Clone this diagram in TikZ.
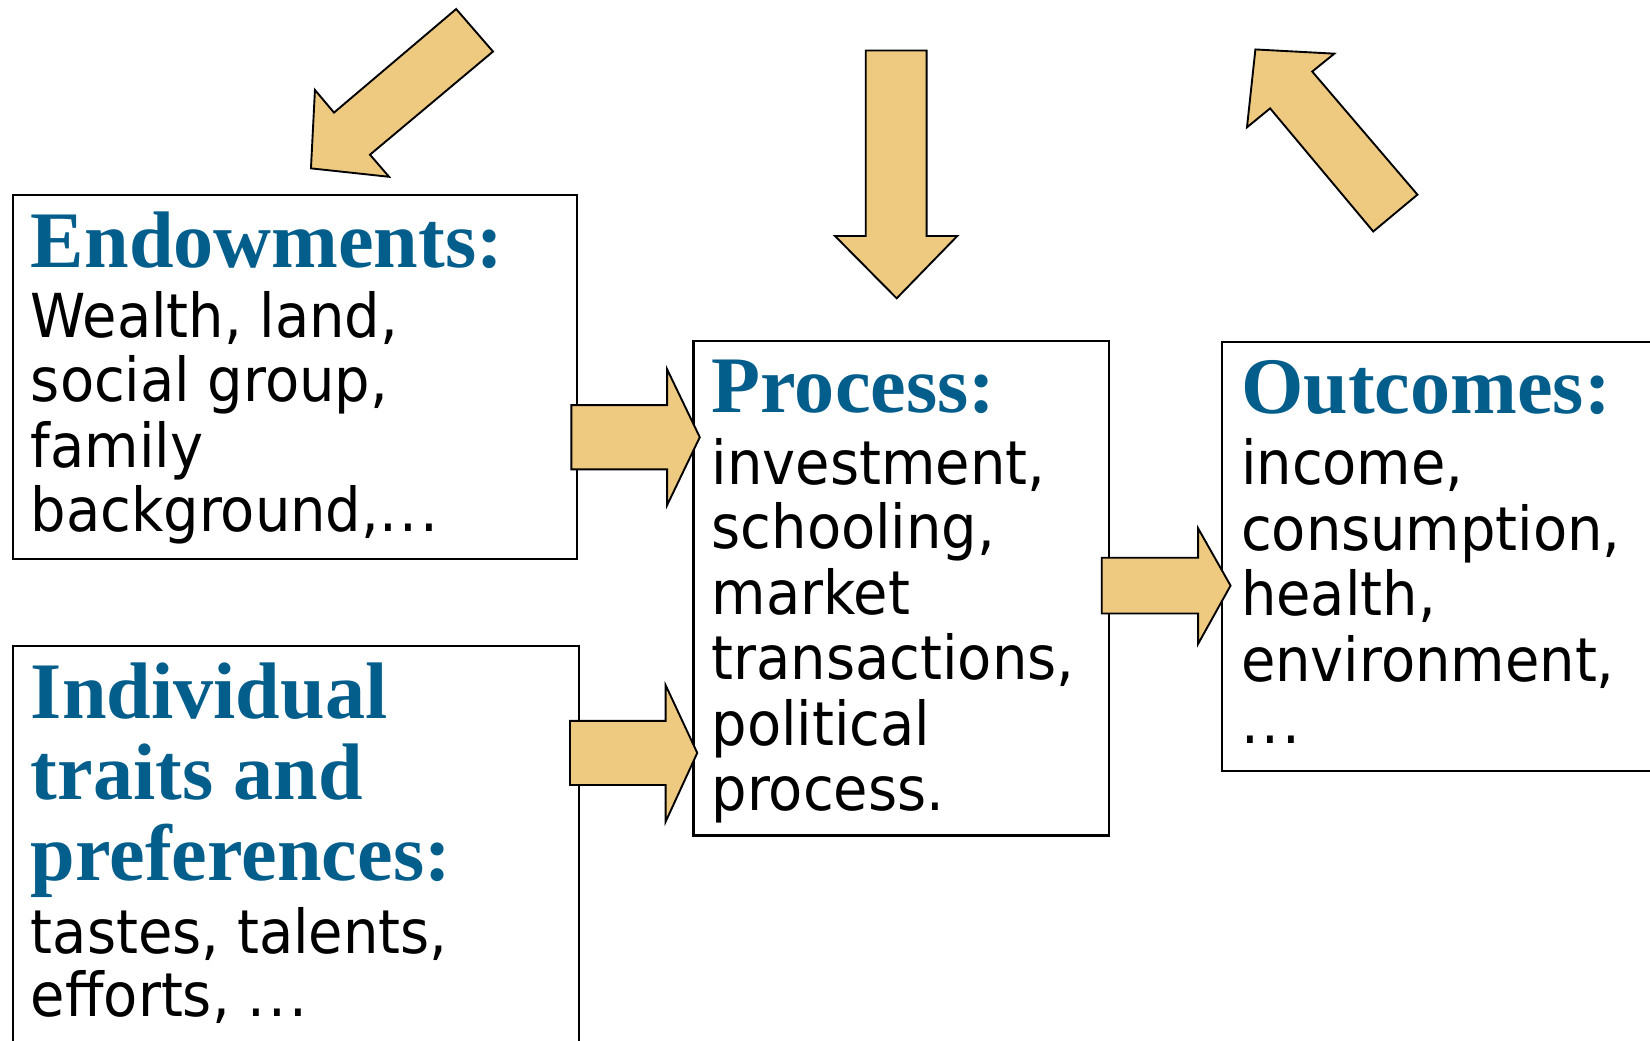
\documentclass[tikz,border=0pt]{standalone}
\usepackage{fontspec}
\IfFontExistsTF{DejaVu Sans Condensed}{\newfontfamily\bodyf[FakeStretch=1.025]{DejaVu Sans Condensed}}{\newfontfamily\bodyf[FakeStretch=0.922]{DejaVu Sans}}
\newfontfamily\titlef{Liberation Serif}
\newcommand\tdots{.\kern1.4pt.\kern1.4pt.}
\definecolor{titleblue}{RGB}{4,94,140}
\definecolor{arrowfill}{RGB}{238,201,128}
\tikzset{
  box/.style={draw=black, line width=1pt, inner sep=0pt, anchor=north west},
  ttl/.style={anchor=base west, inner sep=0pt, text=titleblue, font=\titlef\bfseries\fontsize{38.1}{39}\selectfont},
  bdy/.style={anchor=base west, inner sep=0pt, font=\bodyf\fontsize{28.8}{31}\selectfont},
  blockarrow/.style={draw=black, line width=0.9pt, fill=arrowfill, line join=miter},
}
\begin{document}
\begin{tikzpicture}[x=0.5pt,y=-0.5pt]
\useasboundingbox (0,0) rectangle (1568,989);
% boxes
\node[box, minimum width=268pt, minimum height=173pt] (endow) at (11,184) {};
\node[box, minimum width=269pt, minimum height=195pt] (indiv) at (11,613) {};
\node[box, minimum width=197.5pt, minimum height=235pt] (process) at (658,323) {};
\node[box, minimum width=212pt, minimum height=204pt] (outcomes) at (1160,324) {};
% block arrows
\draw[blockarrow] (543,385) -- (634,385) -- (634,351) -- (665,415.5) -- (634,480) -- (634,446) -- (543,446) -- cycle;
\draw[blockarrow] (541.7,685) -- (632.5,685) -- (632.5,651) -- (662.6,715.5) -- (632.5,781) -- (632.5,746) -- (541.7,746) -- cycle;
\draw[blockarrow] (1047,530) -- (1138.5,530) -- (1138.5,502) -- (1169.4,556.5) -- (1138.5,612) -- (1138.5,583) -- (1047,583) -- cycle;
\draw[blockarrow] (822.7,48) -- (880.6,48) -- (880.6,224.3) -- (909.7,224.3) -- (852.1,283.5) -- (793.5,224.3) -- (822.7,224.3) -- cycle;
\draw[blockarrow] (433.5,8.6) -- (468.5,49) -- (351.6,147) -- (369.7,168) -- (295.5,160) -- (299.3,85.5) -- (317.4,107) -- cycle;
\draw[blockarrow] (1193,47) -- (1268,51) -- (1247,68) -- (1347,185) -- (1305,220) -- (1207,103) -- (1185,121) -- cycle;
% endowments text
\node[ttl] (t1) at (29,254) {Endowments:};
\node[bdy] (e1) at (29,320.6) {Wealth, land,};
\node[bdy] (e2) at (29,382) {social group,};
\node[bdy] (e3) at (29,444) {family};
\node[bdy] (e4) at (29,505) {background,\tdots};
% individual text
\node[ttl] (t2a) at (29,683) {Individual};
\node[ttl] (t2b) at (29,760) {traits and};
\node[ttl] (t2c) at (29,837) {preferences:};
\node[bdy] (i1) at (29,906) {tastes, talents,};
\node[bdy] (i2) at (29,965.5) {efforts, \tdots};
% process text
\node[ttl] (t3) at (676,392) {Process:};
\node[bdy] (p1) at (676,460) {investment,};
\node[bdy] (p2) at (676,521.7) {schooling,};
\node[bdy] (p3) at (676,583.5) {market};
\node[bdy] (p4) at (676,645.3) {transactions,};
\node[bdy] (p5) at (676,708) {political};
\node[bdy] (p6) at (676,769.8) {process.};
% outcomes text
\node[ttl] (t4) at (1179,392.7) {Outcomes:};
\node[bdy] (o1) at (1179,460.6) {income,};
\node[bdy] (o2) at (1179,522.7) {consumption,};
\node[bdy] (o3) at (1179,585) {health,};
\node[bdy] (o4) at (1179,647.3) {environment,};
\node[bdy] (o5) at (1179,706.5) {\tdots};
\end{tikzpicture}
\end{document}
